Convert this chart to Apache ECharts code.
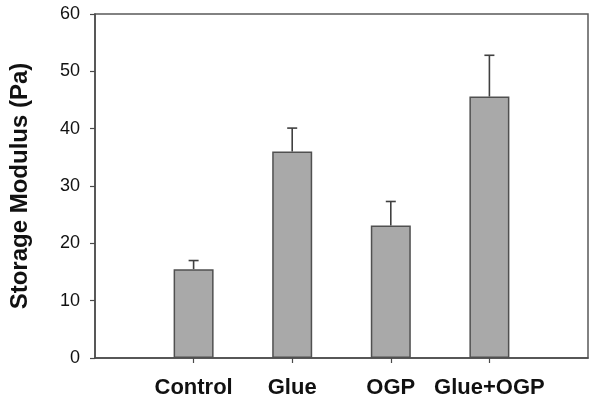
<!DOCTYPE html>
<html>
<head>
<meta charset="utf-8">
<script src="https://cdn.jsdelivr.net/npm/echarts@6/dist/echarts.min.js"></script>
<style>
html,body{margin:0;padding:0;background:#fff;}
#chart{width:600px;height:403px;}
</style>
</head>
<body>
<div id="chart"></div>
<script>
var categories = ['Control', 'Glue', 'OGP', 'Glue+OGP'];
var means = [15.5, 36.0, 23.1, 45.6];
var errors = [1.5, 4.1, 4.2, 7.2];
var yTicks = [0, 10, 20, 30, 40, 50, 60];

var axisCats = [''].concat(categories).concat(['']);
var barData = [null].concat(means).concat([null]);
var errData = categories.map(function (c, i) { return [i + 1, means[i], means[i] + errors[i]]; });

var chart = echarts.init(document.getElementById('chart'));
var dark = '#4a4a4a';
chart.setOption({
  animation: false,
  backgroundColor: '#fff',
  grid: { left: 95, right: 12, top: 14, bottom: 45, show: true, borderColor: '#5a5a5a', borderWidth: 1.5, backgroundColor: 'transparent' },
  xAxis: {
    type: 'category',
    data: axisCats,
    boundaryGap: false,
    axisLine: { lineStyle: { color: dark, width: 1.5 } },
    axisTick: { show: true, length: 5, inside: false, interval: function (i, v) { return v !== ''; }, lineStyle: { color: dark, width: 1.2 } },
    axisLabel: { interval: function (i, v) { return v !== ''; }, margin: 19, fontFamily: 'Liberation Sans, Arial, sans-serif', fontWeight: 'bold', fontSize: 22, color: '#111' },
    splitLine: { show: false }
  },
  yAxis: {
    type: 'value',
    min: yTicks[0],
    max: yTicks[yTicks.length - 1],
    interval: 10,
    name: 'Storage Modulus (Pa)',
    nameLocation: 'middle',
    nameGap: 63,
    nameTextStyle: { fontFamily: 'Liberation Sans, Arial, sans-serif', fontWeight: 'bold', fontSize: 24, color: '#111' },
    axisLine: { show: true, lineStyle: { color: dark, width: 1.5 } },
    axisTick: { show: true, length: 5, inside: false, lineStyle: { color: dark, width: 1.2 } },
    axisLabel: { margin: 15, fontFamily: 'Liberation Sans, Arial, sans-serif', fontSize: 18, color: '#111' },
    splitLine: { show: false }
  },
  series: [
    {
      type: 'bar',
      data: barData,
      barWidth: 40,
      itemStyle: { color: '#a9a9a9', borderColor: '#505050', borderWidth: 1.5 }
    },
    {
      type: 'custom',
      data: errData,
      z: 3,
      renderItem: function (params, api) {
        var x = api.value(0);
        var p0 = api.coord([x, api.value(1)]);
        var p1 = api.coord([x, api.value(2)]);
        var half = 5;
        var st = { stroke: '#404040', lineWidth: 1.6 };
        return {
          type: 'group',
          children: [
            { type: 'line', shape: { x1: p0[0], y1: p0[1], x2: p1[0], y2: p1[1] }, style: st },
            { type: 'line', shape: { x1: p1[0] - half, y1: p1[1], x2: p1[0] + half, y2: p1[1] }, style: st }
          ]
        };
      }
    }
  ]
});
</script>
</body>
</html>
